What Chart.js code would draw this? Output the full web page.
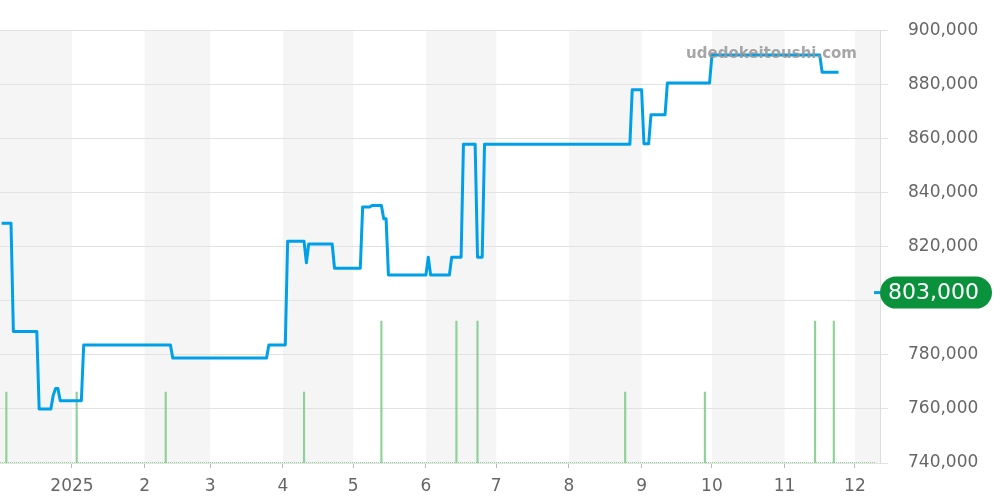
<!DOCTYPE html>
<html lang="ja">
  <head>
    <meta charset="UTF-8" />
    <meta name="viewport" content="width=device-width, initial-scale=1.0" />
    <title>Price chart</title>

    <!-- Chart JS library -->
    <script src="https://cdn.jsdelivr.net/npm/chart.js"></script>
    <style>
      body { margin: 0; background: #fff; }
      #wrap { width: 1000px; height: 500px; position: relative; }
    </style>
  </head>

  <body>
    <div id="wrap"><canvas id="myChart"></canvas></div>

    <script>
      // x values are days counted from 2025-01-01 (Dec 1 2024 = -31)
      const priceDays = [
        -30, -26, -25, -15, -14, -9, -8, -7, -6, -5, 4, 5, 42, 43, 83, 84, 91, 92,
        99, 100, 101, 111, 112, 123, 124, 127, 128, 132, 133, 134, 135, 151, 152,
        153, 161, 162, 166, 167, 172, 173, 175, 176, 238, 239, 243, 244, 246, 247,
        253, 254, 272, 273, 319, 320, 327,
      ];
      const priceValues = [
        828600, 828600, 788600, 788600, 760000, 760000, 765000, 767500, 767500,
        763000, 763000, 783600, 783600, 778800, 778800, 783600, 783600, 822000,
        822000, 814000, 821000, 821000, 812000, 812000, 834600, 834600, 835200,
        835200, 830300, 830300, 809500, 809500, 816100, 809500, 809500, 816100,
        816100, 857800, 857800, 816100, 816100, 857800, 857800, 878000, 878000,
        858000, 858000, 868700, 868700, 880500, 880500, 890800, 890800, 884500,
        884500,
      ];

      // number of listings (green bars at the bottom)
      const volumeDays = [-28, 2, 40, 99, 132, 164, 173, 236, 270, 317, 325];
      const volumeValues = [1, 1, 1, 1, 2, 2, 2, 1, 1, 2, 2];

      // month starts and their labels
      const monthStarts = [0, 31, 59, 90, 120, 151, 181, 212, 243, 273, 304, 334];
      const monthLabels = ["2025", "2", "3", "4", "5", "6", "7", "8", "9", "10", "11", "12"];
      // shaded months: Dec 2024, Feb, Apr, Jun, Aug, Oct, Dec 2025
      const shadedMonths = [[-31, 0], [31, 59], [90, 120], [151, 181], [212, 243], [273, 304], [334, 365]];

      const yTicks = [740000, 760000, 780000, 800000, 820000, 840000, 860000, 880000, 900000];
      const currentPrice = 803000;
      const watermark = "udedokeitoushi.com";

      const toPoints = (xs, ys) => xs.map((x, i) => ({ x: x, y: ys[i] }));

      // grey bands behind every other month
      const bandsPlugin = {
        id: "bands",
        beforeDraw(chart) {
          const { ctx, chartArea, scales } = chart;
          ctx.save();
          ctx.fillStyle = "#f5f5f5";
          shadedMonths.forEach(([a, b]) => {
            let x1 = Math.max(scales.x.getPixelForValue(a), chartArea.left);
            let x2 = Math.min(scales.x.getPixelForValue(b), chartArea.right);
            if (x2 > x1) ctx.fillRect(x1, chartArea.top, x2 - x1, chartArea.bottom - chartArea.top);
          });
          ctx.restore();
        },
        // dotted green base line of the volume bars
        beforeDatasetsDraw(chart) {
          const { ctx, chartArea, scales } = chart;
          const y = scales.y2.getPixelForValue(0) - 0.5;
          ctx.save();
          ctx.strokeStyle = "rgba(130,205,140,0.9)";
          ctx.lineWidth = 1;
          ctx.setLineDash([1, 1]);
          ctx.beginPath();
          ctx.moveTo(chartArea.left, y);
          ctx.lineTo(chartArea.right - 5, y);
          ctx.stroke();
          ctx.restore();
        },
      };

      // watermark and current price badge
      const overlayPlugin = {
        id: "overlay",
        afterDraw(chart) {
          const { ctx, chartArea, scales } = chart;
          ctx.save();
          ctx.font = "bold 15px 'DejaVu Sans'";
          ctx.fillStyle = "rgba(150,150,150,0.85)";
          ctx.textAlign = "right";
          ctx.textBaseline = "alphabetic";
          ctx.fillText(watermark, 857, 58);

          const y = scales.y.getPixelForValue(currentPrice);
          ctx.strokeStyle = "#00a0e9";
          ctx.lineWidth = 3;
          ctx.beginPath();
          ctx.moveTo(chartArea.right - 6, y);
          ctx.lineTo(chartArea.right, y);
          ctx.stroke();

          ctx.fillStyle = "#0a913c";
          ctx.beginPath();
          ctx.roundRect(chartArea.right, y - 16, 112, 32, 16);
          ctx.fill();
          ctx.fillStyle = "#fff";
          ctx.font = "22px 'DejaVu Sans'";
          ctx.textAlign = "left";
          ctx.textBaseline = "middle";
          ctx.fillText(currentPrice.toLocaleString("en-US"), chartArea.right + 8, y + 1);
          ctx.restore();
        },
      };

      const ctx = document.getElementById("myChart").getContext("2d");
      const myChart = new Chart(ctx, {
        type: "line",
        data: {
          datasets: [
            {
              type: "line",
              data: toPoints(priceDays, priceValues),
              borderColor: "#00a0e9",
              borderWidth: 3,
              borderJoinStyle: "round",
              pointRadius: 0,
              tension: 0,
              yAxisID: "y",
              order: 0,
            },
            {
              type: "bar",
              data: toPoints(volumeDays, volumeValues),
              backgroundColor: "rgba(130,205,140,0.9)",
              barThickness: 1.5,
              yAxisID: "y2",
              order: 1,
            },
          ],
        },
        options: {
          responsive: true,
          maintainAspectRatio: false,
          animation: false,
          layout: { padding: { top: 30, left: 0, right: 0, bottom: 0 } },
          plugins: { legend: { display: false }, tooltip: { enabled: false } },
          scales: {
            x: {
              type: "linear",
              min: -30.7,
              max: 344.7,
              offset: false,
              grid: { drawOnChartArea: false, drawTicks: true, tickLength: 5, color: "#bbb", offset: false },
              border: { display: false },
              afterBuildTicks: (scale) => {
                scale.ticks = monthStarts.map((v) => ({ value: v }));
              },
              afterFit: (scale) => {
                scale.height = 37;
              },
              ticks: {
                autoSkip: false,
                maxRotation: 0,
                padding: 8,
                color: "#666",
                font: { family: "DejaVu Sans", size: 17 },
                callback: (value) => monthLabels[monthStarts.indexOf(value)],
              },
            },
            y: {
              position: "right",
              min: 740000,
              max: 900000,
              grid: { color: "#e2e2e2", tickLength: 8 },
              border: { color: "#ddd" },
              afterBuildTicks: (scale) => {
                scale.ticks = yTicks.map((v) => ({ value: v }));
              },
              afterFit: (scale) => {
                scale.width = 120;
              },
              ticks: {
                padding: 20,
                color: "#666",
                font: { family: "DejaVu Sans", size: 17 },
                callback: (value) => value.toLocaleString("en-US"),
              },
            },
            y2: {
              display: false,
              min: 0,
              max: 6.1,
            },
          },
        },
        plugins: [bandsPlugin, overlayPlugin],
      });
    </script>
  </body>
</html>
